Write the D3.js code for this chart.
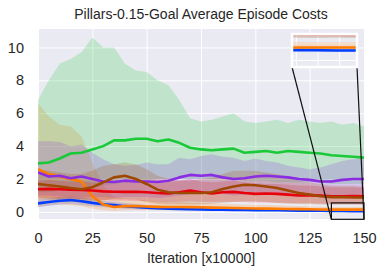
<!DOCTYPE html>
<html>
<head>
<meta charset="utf-8">
<script src="https://cdn.jsdelivr.net/npm/d3@7"></script>
<style>
  body { margin: 0; background: #fff; }
  text { font-family: "Liberation Sans", Arial, sans-serif; fill: #262626; }
</style>
</head>
<body>
<div id="chart"></div>
<script>
// iterations [x10000]
const iters = [0, 5, 10, 15, 20, 25, 30, 35, 40, 45, 50, 55, 60, 65, 70, 75, 80, 85, 90, 95, 100, 105, 110, 115, 120, 125, 130, 135, 140, 145, 150];

const blueMean = [0.52, 0.6, 0.68, 0.72, 0.65, 0.55, 0.47, 0.42, 0.35, 0.3, 0.25, 0.22, 0.2, 0.18, 0.16, 0.15, 0.14, 0.13, 0.12, 0.12, 0.11, 0.1, 0.1, 0.09, 0.08, 0.08, 0.07, 0.06, 0.06, 0.05, 0.05];
const blueLo = [0.3, 0.38, 0.45, 0.48, 0.42, 0.35, 0.28, 0.25, 0.2, 0.17, 0.14, 0.12, 0.11, 0.1, 0.09, 0.08, 0.08, 0.07, 0.07, 0.06, 0.06, 0.05, 0.05, 0.05, 0.04, 0.04, 0.04, 0.03, 0.03, 0.03, 0.03];
const blueHi = [0.78, 0.85, 0.92, 0.98, 0.9, 0.78, 0.68, 0.62, 0.55, 0.48, 0.42, 0.38, 0.34, 0.31, 0.28, 0.26, 0.24, 0.23, 0.21, 0.2, 0.19, 0.18, 0.17, 0.16, 0.15, 0.14, 0.13, 0.12, 0.11, 0.1, 0.1];

const orangeMean = [2.6, 2.3, 2.15, 2.0, 1.85, 0.95, 0.45, 0.3, 0.35, 0.36, 0.33, 0.31, 0.3, 0.3, 0.29, 0.28, 0.26, 0.25, 0.24, 0.22, 0.21, 0.2, 0.19, 0.18, 0.17, 0.16, 0.15, 0.14, 0.14, 0.14, 0.14];
const orangeLo = [0.3, 0.4, 0.45, 0.4, 0.35, 0.2, 0.1, 0.05, 0.08, 0.1, 0.1, 0.1, 0.1, 0.1, 0.1, 0.1, 0.09, 0.09, 0.08, 0.08, 0.08, 0.07, 0.07, 0.07, 0.06, 0.06, 0.06, 0.05, 0.05, 0.05, 0.05];
const orangeHi = [6.6, 5.8, 5.3, 5.2, 4.6, 3.0, 1.6, 0.9, 0.8, 0.75, 0.7, 0.65, 0.62, 0.6, 0.58, 0.55, 0.52, 0.5, 0.48, 0.45, 0.44, 0.42, 0.4, 0.38, 0.36, 0.34, 0.32, 0.3, 0.3, 0.3, 0.3];

const greenMean = [2.95, 3.0, 3.25, 3.55, 3.6, 3.8, 4.0, 4.35, 4.35, 4.45, 4.45, 4.3, 4.4, 4.2, 3.9, 3.8, 3.75, 3.8, 3.85, 3.6, 3.65, 3.7, 3.6, 3.7, 3.65, 3.6, 3.55, 3.45, 3.4, 3.35, 3.3];
const greenLo = [1.2, 1.2, 1.3, 1.5, 1.4, 1.5, 1.6, 1.7, 1.8, 1.9, 1.9, 2.0, 2.0, 2.0, 2.0, 2.0, 2.0, 2.0, 2.0, 1.9, 1.9, 1.9, 1.8, 1.8, 1.8, 1.8, 1.8, 1.7, 1.7, 1.7, 1.7];
const greenHi = [6.8, 8.0, 9.0, 9.3, 9.7, 10.6, 10.0, 10.0, 9.0, 8.6, 8.5, 8.0, 7.7, 6.8, 5.7, 5.5, 5.6, 5.8, 6.0, 5.5, 5.4, 5.5, 5.6, 5.4, 5.6, 5.5, 5.4, 5.5, 5.3, 5.4, 5.2];

const redMean = [1.38, 1.4, 1.38, 1.35, 1.33, 1.3, 1.25, 1.23, 1.22, 1.23, 1.2, 1.15, 1.12, 1.2, 1.3, 1.2, 1.12, 1.2, 1.22, 1.15, 1.1, 1.12, 1.1, 1.05, 1.0, 1.02, 1.0, 0.95, 0.95, 0.97, 0.95];
const redLo = [0.85, 0.85, 0.8, 0.8, 0.78, 0.75, 0.72, 0.7, 0.7, 0.68, 0.65, 0.62, 0.6, 0.62, 0.65, 0.62, 0.6, 0.62, 0.62, 0.6, 0.58, 0.58, 0.56, 0.55, 0.52, 0.52, 0.5, 0.48, 0.48, 0.48, 0.47];
const redHi = [1.9, 1.95, 1.9, 1.85, 1.85, 1.8, 1.8, 1.75, 1.8, 1.85, 1.8, 1.75, 1.8, 1.9, 2.0, 1.85, 1.8, 1.85, 1.9, 1.8, 1.75, 1.7, 1.7, 1.65, 1.6, 1.6, 1.55, 1.5, 1.5, 1.5, 1.45];

const purpleMean = [2.4, 2.15, 2.2, 2.05, 2.15, 2.0, 1.85, 1.82, 1.9, 1.85, 1.85, 1.82, 1.9, 2.1, 2.25, 2.2, 2.25, 2.1, 2.0, 2.05, 2.15, 2.2, 2.15, 2.1, 2.0, 1.95, 1.85, 1.85, 1.95, 2.0, 2.0];
const purpleLo = [1.0, 1.0, 0.95, 0.95, 0.9, 0.9, 0.9, 0.85, 0.9, 0.9, 0.9, 0.85, 0.9, 1.0, 1.1, 1.1, 1.15, 1.1, 1.0, 1.05, 1.1, 1.1, 1.05, 1.0, 1.0, 0.95, 0.9, 0.9, 0.95, 1.0, 1.0];
const purpleHi = [4.3, 4.3, 4.25, 4.0, 4.1, 3.6, 3.2, 2.9, 2.8, 2.85, 3.0, 2.9, 2.9, 3.3, 3.2, 3.4, 3.5, 3.35, 3.3, 3.1, 3.25, 3.1, 3.0, 2.8, 2.7, 2.6, 2.7, 2.9, 3.1, 3.2, 3.3];

const brownMean = [1.7, 1.62, 1.55, 1.45, 1.38, 1.5, 1.8, 2.1, 2.2, 2.0, 1.7, 1.35, 1.2, 1.15, 1.15, 1.15, 1.2, 1.4, 1.55, 1.65, 1.62, 1.55, 1.45, 1.3, 1.15, 1.05, 0.95, 0.9, 0.9, 0.88, 0.88];
const brownLo = [0.8, 0.75, 0.7, 0.65, 0.6, 0.65, 0.7, 0.8, 0.8, 0.75, 0.6, 0.5, 0.45, 0.45, 0.45, 0.45, 0.5, 0.55, 0.6, 0.65, 0.65, 0.6, 0.55, 0.5, 0.48, 0.46, 0.45, 0.44, 0.43, 0.44, 0.43];
const brownHi = [2.6, 2.5, 2.4, 2.3, 2.3, 2.5, 2.8, 2.9, 3.0, 2.9, 2.6, 2.2, 2.0, 1.9, 1.9, 2.0, 2.1, 2.3, 2.5, 2.5, 2.5, 2.4, 2.3, 2.1, 1.9, 1.8, 1.7, 1.6, 1.6, 1.6, 1.55];

const xTicks = [0, 25, 50, 75, 100, 125, 150];
const yTicks = [0, 2, 4, 6, 8, 10];
const insetXTicks = [136, 141, 146];
const insetYTicks = [-0.25, 0.25];

const series = [
  { color: "#023eff", mean: blueMean, lo: blueLo, hi: blueHi },
  { color: "#ff7c00", mean: orangeMean, lo: orangeLo, hi: orangeHi },
  { color: "#1ac938", mean: greenMean, lo: greenLo, hi: greenHi },
  { color: "#e8000b", mean: redMean, lo: redLo, hi: redHi },
  { color: "#8b2be2", mean: purpleMean, lo: purpleLo, hi: purpleHi },
  { color: "#9f4800", mean: brownMean, lo: brownLo, hi: brownHi }
];

const W = 385, H = 275;
const mL = 38, mR = 364, mT = 29, mB = 219;

const svg = d3.select("#chart").append("svg")
  .attr("width", W).attr("height", H);

const x = d3.scaleLinear().domain([0, 150]).range([mL, mR]);
const y = d3.scaleLinear().domain([-0.43, 11.12]).range([mB, mT]);

// fond + grille
svg.append("rect").attr("x", mL).attr("y", mT)
  .attr("width", mR - mL).attr("height", mB - mT).attr("fill", "#eaeaf2");

svg.append("g").attr("transform", `translate(0,${mB})`)
  .call(d3.axisBottom(x).tickValues(xTicks).tickSize(-(mB - mT)).tickFormat(""))
  .call(g => g.select(".domain").remove())
  .call(g => g.selectAll("line").attr("stroke", "#fff").attr("stroke-width", 1));
svg.append("g").attr("transform", `translate(${mL},0)`)
  .call(d3.axisLeft(y).tickValues(yTicks).tickSize(-(mR - mL)).tickFormat(""))
  .call(g => g.select(".domain").remove())
  .call(g => g.selectAll("line").attr("stroke", "#fff").attr("stroke-width", 1));

svg.append("clipPath").attr("id", "clip-main").append("rect")
  .attr("x", mL).attr("y", mT).attr("width", mR - mL).attr("height", mB - mT);

function drawSeries(g, sx, sy) {
  const area = d3.area()
    .x((d, i) => sx(iters[i]))
    .y0(d => sy(d[0]))
    .y1(d => sy(d[1]));
  const line = d3.line()
    .x((d, i) => sx(iters[i]))
    .y(d => sy(d));
  // bandes d'abord, lignes ensuite (comme matplotlib)
  series.forEach(s => {
    g.append("path")
      .attr("d", area(s.lo.map((v, i) => [v, s.hi[i]])))
      .attr("fill", s.color).attr("fill-opacity", 0.2);
  });
  series.forEach(s => {
    g.append("path")
      .attr("d", line(s.mean))
      .attr("fill", "none").attr("stroke", s.color)
      .attr("stroke-width", 2.6).attr("stroke-linejoin", "round");
  });
}

const main = svg.append("g").attr("clip-path", "url(#clip-main)");
drawSeries(main, x, y);

// zone zoomée
const zoomX = [135, 150], zoomY = [-0.45, 0.55];
const ix0 = 292, ix1 = 357, iy0 = 34, iy1 = 67;

svg.append("rect")
  .attr("x", x(zoomX[0])).attr("y", y(zoomY[1]))
  .attr("width", x(zoomX[1]) - x(zoomX[0])).attr("height", y(zoomY[0]) - y(zoomY[1]))
  .attr("fill", "none").attr("stroke", "#111").attr("stroke-width", 1.2);
svg.append("line").attr("x1", ix0).attr("y1", iy1).attr("x2", x(zoomX[0])).attr("y2", y(zoomY[0]))
  .attr("stroke", "#111").attr("stroke-width", 1.2);
svg.append("line").attr("x1", ix1).attr("y1", iy1).attr("x2", x(zoomX[1])).attr("y2", y(zoomY[0]))
  .attr("stroke", "#111").attr("stroke-width", 1.2);

// encart
const ixs = d3.scaleLinear().domain(zoomX).range([ix0, ix1]);
const iys = d3.scaleLinear().domain(zoomY).range([iy1, iy0]);

svg.append("rect").attr("x", ix0).attr("y", iy0)
  .attr("width", ix1 - ix0).attr("height", iy1 - iy0).attr("fill", "#eaeaf2");
const ig = svg.append("g");
insetXTicks.forEach(t => ig.append("line").attr("x1", ixs(t)).attr("x2", ixs(t))
  .attr("y1", iy0).attr("y2", iy1).attr("stroke", "#fff"));
insetYTicks.forEach(t => ig.append("line").attr("y1", iys(t)).attr("y2", iys(t))
  .attr("x1", ix0).attr("x2", ix1).attr("stroke", "#fff"));

svg.append("clipPath").attr("id", "clip-inset").append("rect")
  .attr("x", ix0).attr("y", iy0).attr("width", ix1 - ix0).attr("height", iy1 - iy0);
const inset = svg.append("g").attr("clip-path", "url(#clip-inset)");
drawSeries(inset, ixs, iys);

svg.append("rect").attr("x", ix0).attr("y", iy0)
  .attr("width", ix1 - ix0).attr("height", iy1 - iy0)
  .attr("fill", "none").attr("stroke", "#fff").attr("stroke-width", 2.5);

// axes
svg.append("g").attr("transform", `translate(0,${mB})`)
  .call(d3.axisBottom(x).tickValues(xTicks).tickSize(0).tickPadding(14))
  .call(g => g.select(".domain").remove())
  .call(g => g.selectAll("text").style("font-size", "14.5px"));
svg.append("g").attr("transform", `translate(${mL},0)`)
  .call(d3.axisLeft(y).tickValues(yTicks).tickSize(0).tickPadding(14))
  .call(g => g.select(".domain").remove())
  .call(g => g.selectAll("text").style("font-size", "14.5px"));

svg.append("text").attr("x", (mL + mR) / 2).attr("y", 19)
  .attr("text-anchor", "middle").style("font-size", "14px")
  .text("Pillars-0.15-Goal Average Episode Costs");

svg.append("text").attr("x", (mL + mR) / 2).attr("y", 263)
  .attr("text-anchor", "middle").style("font-size", "14px")
  .text("Iteration [x10000]");
</script>
</body>
</html>
